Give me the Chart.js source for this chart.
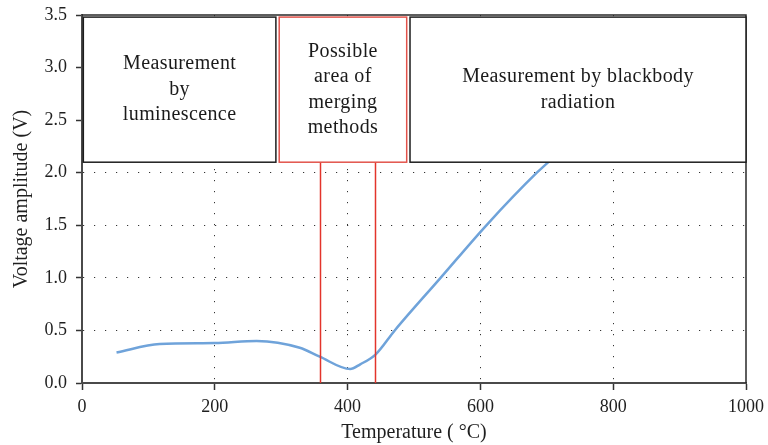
<!DOCTYPE html>
<html>
<head>
<meta charset="utf-8">
<script src="https://cdn.jsdelivr.net/npm/chart.js@4/dist/chart.umd.min.js"></script>
<style>
  html, body { margin: 0; padding: 0; background: #fff; }
  #wrap { width: 768px; height: 445px; }
</style>
</head>
<body>
<div id="wrap"><canvas id="c" width="768" height="445"></canvas></div>
<script>
// Signal curve: temperature (°C) vs voltage amplitude (V)
const temperature = [52, 117, 200, 263, 328, 358, 404, 419, 442, 471, 540, 609, 685, 720];
const voltage = [0.29, 0.37, 0.38, 0.40, 0.335, 0.25, 0.133, 0.178, 0.27, 0.5, 1.0, 1.5, 2.0, 2.2];

// Axis ticks
const xTicks = [0, 200, 400, 600, 800, 1000];
const yTicks = [0, 0.5, 1.0, 1.5, 2.0, 2.5, 3.0, 3.5];

// Measurement regions (temperature ranges) and their captions
const regionStart = [2, 297, 494];
const regionEnd = [292, 489, 1000];
const regionLabels = [
  ["Measurement", "by", "luminescence"],
  ["Possible", "area of", "merging", "methods"],
  ["Measurement by blackbody", "radiation"]
];
const regionBottom = 2.1;
const regionTop = 3.48;
// Temperature bounds of the overlap zone
const mergeBounds = [358, 442];

const SERIF = '"Liberation Serif", "Times New Roman", serif';

const overlay = {
  id: 'overlay',
  afterDatasetsDraw(chart) {
    const { ctx, chartArea: a, scales: { x, y } } = chart;
    ctx.save();

    // vertical markers of the overlap zone
    ctx.strokeStyle = '#e3342b';
    ctx.lineWidth = 1.5;
    mergeBounds.forEach(t => {
      const px = Math.round(x.getPixelForValue(t)) + 0.5;
      ctx.beginPath();
      ctx.moveTo(px, y.getPixelForValue(0));
      ctx.lineTo(px, y.getPixelForValue(regionBottom));
      ctx.stroke();
    });

    // plot frame (top and right)
    ctx.strokeStyle = '#2a2a2a';
    ctx.lineWidth = 1.5;
    ctx.beginPath();
    ctx.moveTo(a.left, a.top);
    ctx.lineTo(a.right, a.top);
    ctx.lineTo(a.right, a.bottom);
    ctx.stroke();

    // region boxes with captions
    const yb = y.getPixelForValue(regionBottom);
    const yt = y.getPixelForValue(regionTop);
    regionStart.forEach((s, i) => {
      const xl = x.getPixelForValue(s);
      const xr = x.getPixelForValue(regionEnd[i]);
      ctx.fillStyle = '#ffffff';
      ctx.fillRect(xl, yt, xr - xl, yb - yt);
      ctx.strokeStyle = i === 1 ? '#e2534b' : '#1e1e1e';
      ctx.lineWidth = 1.5;
      ctx.strokeRect(xl, yt, xr - xl, yb - yt);

      const lines = regionLabels[i];
      const lh = 25.5;
      const cx = (xl + xr) / 2;
      const cy = (yt + yb) / 2;
      ctx.fillStyle = '#1a1a1a';
      ctx.font = '20px ' + SERIF;
      ctx.letterSpacing = '0.4px';
      ctx.textAlign = 'center';
      ctx.textBaseline = 'middle';
      lines.forEach((ln, k) => {
        ctx.fillText(ln, cx, cy + (k - (lines.length - 1) / 2) * lh);
      });
    });
    ctx.restore();
  }
};

const dotted = [1.2, 9.8];

new Chart(document.getElementById('c'), {
  type: 'line',
  data: {
    datasets: [{
      data: temperature.map((t, i) => ({ x: t, y: voltage[i] })),
      borderColor: '#6fa3da',
      borderWidth: 2.5,
      pointRadius: 0,
      cubicInterpolationMode: 'monotone',
      fill: false
    }]
  },
  options: {
    responsive: false,
    animation: false,
    devicePixelRatio: 1,
    layout: { padding: { top: 15, right: 22, left: 0, bottom: 0 } },
    plugins: { legend: { display: false }, tooltip: { enabled: false } },
    scales: {
      x: {
        type: 'linear',
        min: 0, max: 1000,
        afterBuildTicks: s => { s.ticks = xTicks.map(v => ({ value: v })); },
        afterFit: s => { s.height = 62; s.paddingLeft = 0; s.paddingRight = 0; },
        ticks: {
          color: '#1f1f1f',
          font: { family: SERIF, size: 18 },
          padding: 6,
          maxRotation: 0,
          callback: v => String(v)
        },
        grid: {
          color: c => (c.tick && (c.tick.value === 0 || c.tick.value === 1000)) ? 'rgba(0,0,0,0)' : '#333',
          lineWidth: 1,
          tickColor: '#333',
          tickLength: 7,
          tickWidth: 1.5,
          tickBorderDash: []
        },
        border: { display: true, color: '#4a4a4a', width: 2, dash: dotted },
        title: {
          display: true,
          text: 'Temperature ( °C)',
          color: '#1f1f1f',
          font: { family: SERIF, size: 20 },
          padding: { top: 0, bottom: 0 }
        }
      },
      y: {
        type: 'linear',
        min: 0, max: 3.5,
        afterBuildTicks: s => { s.ticks = yTicks.map(v => ({ value: v })); },
        afterFit: s => { s.width = 82; s.paddingTop = 0; s.paddingBottom = 0; },
        ticks: {
          color: '#1f1f1f',
          font: { family: SERIF, size: 18 },
          padding: 9,
          callback: v => Number(v).toFixed(1)
        },
        grid: {
          color: c => (c.tick && (c.tick.value === 0 || c.tick.value === 3.5)) ? 'rgba(0,0,0,0)' : '#333',
          lineWidth: 1,
          tickColor: '#333',
          tickLength: 6,
          tickWidth: 1.5,
          tickBorderDash: []
        },
        border: { display: true, color: '#4a4a4a', width: 2, dash: dotted },
        title: {
          display: true,
          text: 'Voltage amplitude (V)',
          color: '#1f1f1f',
          font: { family: SERIF, size: 20 },
          padding: { top: 10, bottom: 0 }
        }
      }
    }
  },
  plugins: [overlay]
});
</script>
</body>
</html>
